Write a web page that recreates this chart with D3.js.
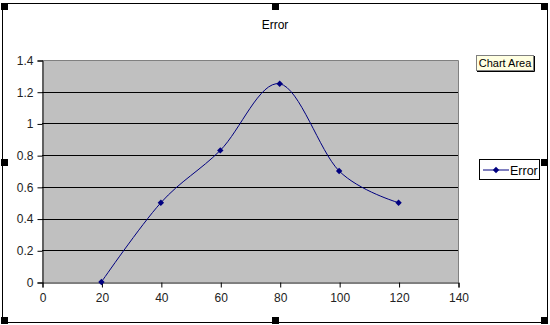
<!DOCTYPE html>
<html><head><meta charset="utf-8">
<script src="https://cdn.jsdelivr.net/npm/d3@7"></script>
<style>html,body{margin:0;padding:0;background:#fff;}svg{display:block;}</style>
</head><body>
<svg id="c" width="550" height="325"></svg>
<script>
const xValues = [20, 40, 60, 80, 100, 120];
const errorValues = [0, 0.5, 0.83, 1.25, 0.7, 0.5];
const xTicks = [0, 20, 40, 60, 80, 100, 120, 140];
const yTicks = [0, 0.2, 0.4, 0.6, 0.8, 1, 1.2, 1.4];
const seriesName = "Error";
const chartTitle = "Error";

const svg = d3.select("#c");
const font = "'Liberation Sans', Arial, sans-serif";
const L = 42, R = 458, T = 60, B = 282;
const x = d3.scaleLinear().domain([0, 140]).range([L, R]);
const y = d3.scaleLinear().domain([0, 1.4]).range([B, T]);
const navy = "#000080";

// chart area border
svg.append("rect").attr("x", 2.5).attr("y", 3.5).attr("width", 545).attr("height", 319)
  .attr("fill", "#fff").attr("stroke", "#000").attr("stroke-width", 1);

// title
svg.append("text").attr("x", 275).attr("y", 29).attr("text-anchor", "middle")
  .attr("font-family", font).attr("font-size", 12).attr("fill", "#000").text(chartTitle);

// plot area
svg.append("rect").attr("x", L).attr("y", T).attr("width", R - L).attr("height", B - T)
  .attr("fill", "#c0c0c0");
// gridlines
svg.append("g").selectAll("line").data(yTicks.filter(d => d > 0 && d < 1.4)).join("line")
  .attr("x1", L).attr("x2", R).attr("y1", d => Math.round(y(d)) + 0.5).attr("y2", d => Math.round(y(d)) + 0.5)
  .attr("stroke", "#000").attr("stroke-width", 1);
// plot border top/right
svg.append("path").attr("d", `M${L},${T + 0.5}H${R + 0.5}V${B}`).attr("fill", "none")
  .attr("stroke", "#808080").attr("stroke-width", 1);

// axes
const yAxis = d3.axisLeft(y).tickValues(yTicks).tickSize(5).tickPadding(4).tickFormat(d3.format("~g"));
const gy = svg.append("g").attr("transform", `translate(${L + 0.5},0.5)`).call(yAxis);
const xAxis = d3.axisBottom(x).tickValues(xTicks).tickSize(5).tickPadding(6).tickFormat(d3.format("d"));
const gx = svg.append("g").attr("transform", `translate(0.5,${B + 0.5})`).call(xAxis);
[gx, gy].forEach(g => {
  g.select(".domain").attr("stroke", "#000");
  g.selectAll(".tick line").attr("stroke", "#000");
  g.selectAll("text").attr("font-family", font).attr("font-size", 12).attr("fill", "#222");
});

// series
const pts = xValues.map((v, i) => [v, errorValues[i]]);
const line = d3.line().x(d => x(d[0])).y(d => y(d[1])).curve(d3.curveCardinal.tension(0));
svg.append("path").datum(pts).attr("d", line).attr("fill", "none")
  .attr("stroke", navy).attr("stroke-width", 1);
const diamond = s => `M0,${-s}L${s},0L0,${s}L${-s},0Z`;
svg.append("g").selectAll("path").data(pts).join("path")
  .attr("transform", d => `translate(${x(d[0])},${y(d[1])})`)
  .attr("d", diamond(3.2)).attr("fill", navy);

// legend
const lg = svg.append("g");
lg.append("rect").attr("x", 479.5).attr("y", 159.5).attr("width", 60).attr("height", 20)
  .attr("fill", "#fff").attr("stroke", "#000");
lg.append("line").attr("x1", 483).attr("x2", 509).attr("y1", 170).attr("y2", 170).attr("stroke", navy);
lg.append("path").attr("transform", "translate(496,170)").attr("d", diamond(3.2)).attr("fill", navy);
lg.append("text").attr("x", 510).attr("y", 175).attr("font-family", font).attr("font-size", 12.5)
  .attr("fill", "#000").text(seriesName);

// "Chart Area" tooltip
const tt = svg.append("g");
tt.append("rect").attr("x", 476.5).attr("y", 55.5).attr("width", 57).attr("height", 15)
  .attr("fill", "#ffffe1").attr("stroke", "#808080");
tt.append("path").attr("d", "M534.5,56V71.5H477").attr("fill", "none").attr("stroke", "#000");
tt.append("text").attr("x", 505).attr("y", 67).attr("text-anchor", "middle")
  .attr("font-family", font).attr("font-size", 11).attr("fill", "#000").text("Chart Area");

// selection handles
const hs = [[1, 3], [272, 3], [541, 3], [1, 159], [541, 159], [1, 317], [272, 317], [541, 317]];
svg.append("g").selectAll("rect").data(hs).join("rect")
  .attr("x", d => d[0]).attr("y", d => d[1]).attr("width", 7).attr("height", 7).attr("fill", "#000");
</script>
</body></html>
